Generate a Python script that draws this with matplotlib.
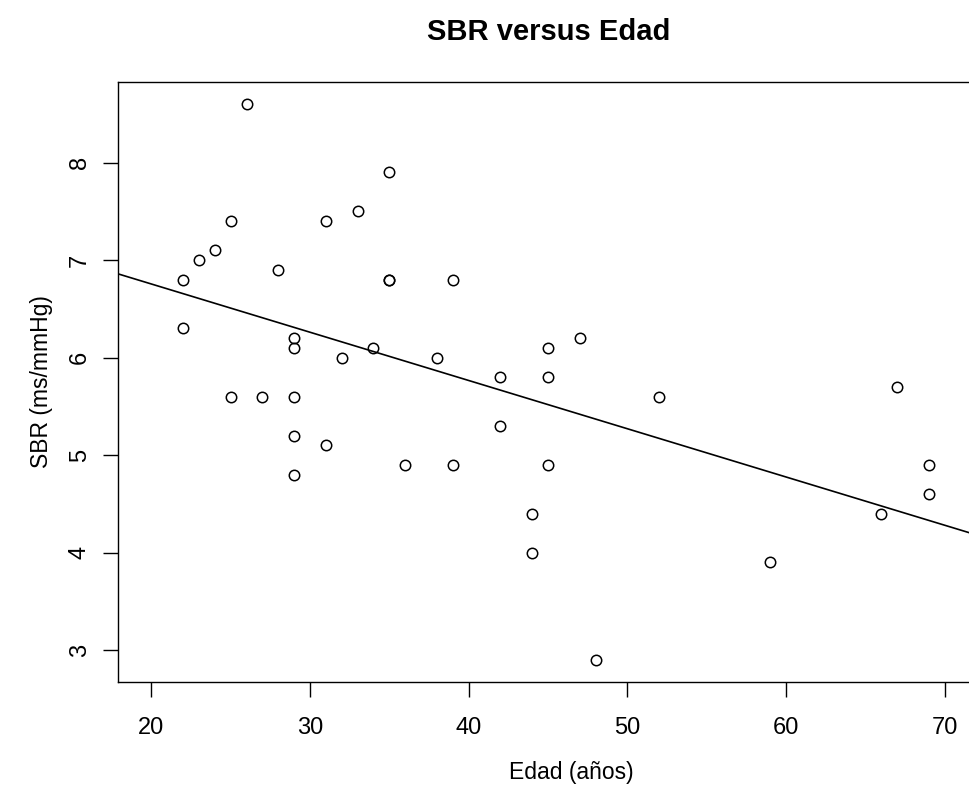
import numpy as np
import matplotlib
matplotlib.use('Agg')
import matplotlib.pyplot as plt

plt.rcParams['font.family'] = ['Liberation Sans', 'DejaVu Sans']

# ages (years) and SBR (ms/mmHg)
edad = [26, 35, 33, 25, 31, 24, 23, 28, 22, 35, 35, 39, 22, 29, 29, 32, 34, 38,
        25, 27, 29, 29, 31, 29, 36, 39,
        47, 45, 42, 45, 52, 67, 42, 45, 69, 69, 44, 66, 44, 59, 48]
sbr = [8.6, 7.9, 7.5, 7.4, 7.4, 7.1, 7.0, 6.9, 6.8, 6.8, 6.8, 6.8, 6.3, 6.2, 6.1, 6.0, 6.1, 6.0,
       5.6, 5.6, 5.6, 5.2, 5.1, 4.8, 4.9, 4.9,
       6.2, 6.1, 5.8, 5.8, 5.6, 5.7, 5.3, 4.9, 4.9, 4.6, 4.4, 4.4, 4.0, 3.9, 2.9]

x_ticks = [20, 30, 40, 50, 60, 70]
y_ticks = [3, 4, 5, 6, 7, 8]

W, H = 969, 798
fig = plt.figure(figsize=(W / 100, H / 100), dpi=100)

# plot box: left 118px, top 82px, bottom 682px; right side runs off the picture
left, top, bottom, right = 118, 82, 682, 1000
ax = fig.add_axes([left / W, 1 - bottom / H, (right - left) / W, (bottom - top) / H])

x = np.array(edad, dtype=float)
y = np.array(sbr, dtype=float)

ax.plot(x, y, linestyle='none', marker='o', markersize=7.5,
        markerfacecolor='none', markeredgecolor='black', markeredgewidth=1.1)

# least squares line (abline(lm(sbr ~ edad)))
slope, intercept = np.polyfit(x, y, 1)

px_per_year = 15.87
x_lo = 20 - (151.3 - left) / px_per_year
x_hi = x_lo + (right - left) / px_per_year
ax.set_xlim(x_lo, x_hi)

yr = y.max() - y.min()
ax.set_ylim(y.min() - 0.04 * yr, y.max() + 0.04 * yr)

xs = np.array([x_lo, x_hi])
ax.plot(xs, intercept + slope * xs, color='black', linewidth=1.2)

ax.set_xticks(x_ticks)
ax.set_yticks(y_ticks)
ax.tick_params(length=10.5, width=1, labelsize=17, direction='out')
ax.tick_params(axis='x', pad=15)
ax.tick_params(axis='y', pad=9, labelrotation=90)
for lab in ax.get_yticklabels():
    lab.set_va('center')
for sp in ax.spines.values():
    sp.set_linewidth(1.0)

fig.text(549 / W, 1 - 32 / H, 'SBR versus Edad', ha='center', va='center',
         fontsize=21, fontweight='bold')
fig.text(571 / W, 1 - 773 / H, 'Edad (años)', ha='center', va='center', fontsize=16.5)
fig.text(42 / W, 1 - 382 / H, 'SBR (ms/mmHg)', ha='center', va='center',
         rotation=90, fontsize=16.5)

fig.savefig('out.png', dpi=100)
